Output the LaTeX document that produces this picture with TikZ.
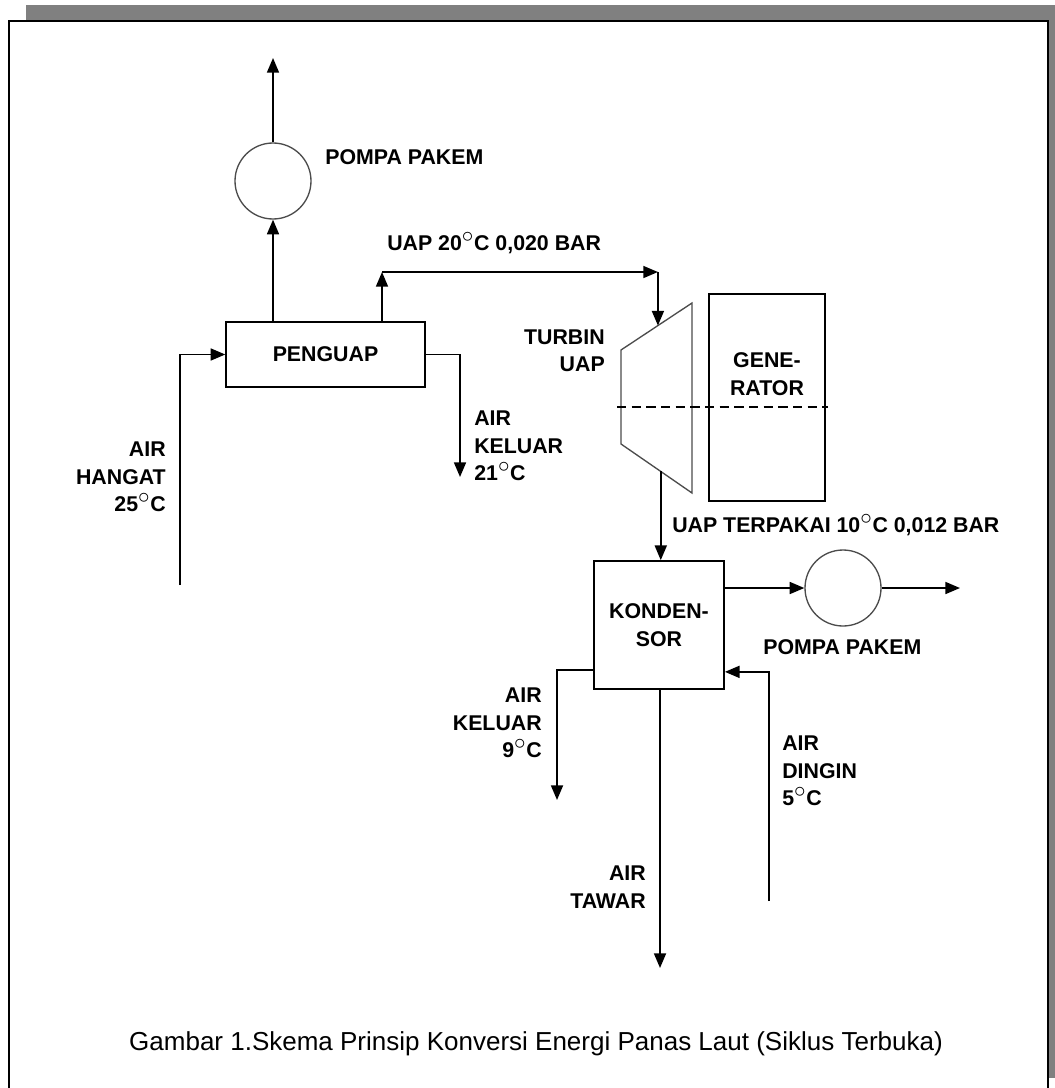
\documentclass[tikz,border=0pt]{standalone}
\usepackage{fontspec}
\setmainfont{Liberation Sans}
\usetikzlibrary{arrows.meta,calc,positioning}
\newcommand{\dg}{\ensuremath{^{\textstyle\circ}}}

\begin{document}
\begin{tikzpicture}[x=0.75pt,y=-0.75pt,
    flow/.style={line width=1.3pt,-{Triangle[length=11pt,width=9pt]}},
    unitbox/.style={draw,line width=1.3pt,rectangle,inner sep=0pt},
    pumpcirc/.style={draw=black!70,line width=1pt,circle,inner sep=0pt,minimum size=57pt},
    labelfont/.style={font=\bfseries\fontsize{16}{20.6}\selectfont},
    lbl/.style={labelfont,inner sep=0pt}]
    \useasboundingbox (0,0) rectangle (1055,1088);
    \clip (0,0) rectangle (1055,1088);

    % Frame with shadow
    \fill[black!50] (26,5) rectangle (1070,1078);
    \draw[fill=white,line width=1.6pt] (9,21) rectangle (1048,1110);

    % Evaporator and vacuum pump
    \node[unitbox,labelfont,minimum width=149pt,minimum height=49pt] (penguap) at (325.5,354.5) {PENGUAP};
    \node[pumpcirc] (pump1) at (273,181) {};
    \coordinate (pompa top) at (273,58);
    \draw[flow] (pump1.north) -- (pompa top);
    \draw[flow] (penguap.north -| pump1.south) -- (pump1.south);
    \node[lbl,anchor=west] (lbl pompa1) at (325,157) {POMPA PAKEM};

    % Warm water in, water out
    \coordinate (hangat) at (180,585);
    \draw[flow] (hangat) |- (penguap.west);
    \node[lbl,anchor=east,align=right] (lbl hangat) at (166,477) {AIR\\HANGAT\\25\dg C};
    \coordinate (keluar1) at (460,477);
    \draw[flow] (penguap.east) -| (keluar1);
    \node[lbl,anchor=west,align=left] (lbl keluar1) at (474,446) {AIR\\KELUAR\\21\dg C};

    % Turbine
    \draw[draw=black!70,line width=1pt] (621,350) coordinate (tA) -- (692,303) coordinate (tB)
      -- (692,493) coordinate (tC) -- (621,444) coordinate (tD) -- cycle;
    \coordinate (turbin in) at ($(tA)!0.52!(tB)$);
    \coordinate (turbin out) at ($(tD)!0.56!(tC)$);
    \node[lbl,anchor=east,align=right] (lbl turbin) at (605,351) {TURBIN\\UAP};

    % Generator
    \node[unitbox,minimum width=87pt,minimum height=155pt] (generator) at (767,397.5) {};
    \node[lbl,align=center] (lbl generator) at (767,374) {GENE-\\RATOR};
    \draw[line width=1.2pt,dash pattern=on 7pt off 4pt] (617,407) -- (828,407);

    % Steam line
    \coordinate (uapA) at (382,272);
    \coordinate (uapB) at (turbin in |- uapA);
    \draw[flow] (penguap.north -| uapA) -- (uapA);
    \draw[flow] (uapA) -- (uapB);
    \draw[flow] (uapB) -- (turbin in);
    \node[lbl,anchor=west] (lbl uap) at (387,243) {UAP 20\dg C 0,020 BAR};

    % Condenser
    \node[unitbox,labelfont,align=center,minimum width=97.5pt,minimum height=96pt] (kondensor) at (659,625) {KONDEN-\\SOR};
    \draw[flow] (turbin out) -- (turbin out |- kondensor.north);
    \node[lbl,anchor=west] (lbl terpakai) at (672,525) {UAP TERPAKAI 10\dg C 0,012 BAR};

    % Condensate pump
    \node[pumpcirc] (pump2) at (843,588) {};
    \coordinate (pompa out) at (960,588);
    \draw[flow] (kondensor.east |- pump2.west) -- (pump2.west);
    \draw[flow] (pump2.east) -- (pompa out);
    \node[lbl,anchor=west] (lbl pompa2) at (763,647) {POMPA PAKEM};

    % Cold water in, water out, fresh water
    \coordinate (dingin) at (769,901);
    \draw[flow] (dingin) |- ($(kondensor.south east)+(0,-18)$);
    \node[lbl,anchor=west,align=left] (lbl dingin) at (782,771) {AIR\\DINGIN\\5\dg C};
    \coordinate (keluar2) at (557,800);
    \draw[flow] ($(kondensor.south west)+(0,-20)$) -| (keluar2);
    \node[lbl,anchor=east,align=right] (lbl keluar2) at (542,723) {AIR\\KELUAR\\9\dg C};
    \coordinate (tawar) at (660,968);
    \draw[flow] (kondensor.south -| tawar) -- (tawar);
    \node[lbl,anchor=east,align=right] (lbl tawar) at (646,887) {AIR\\TAWAR};

    % Caption
    \node (caption) at (536,1044) {\fontsize{19.5}{24}\selectfont Gambar 1.Skema Prinsip Konversi Energi Panas Laut (Siklus Terbuka)};
\end{tikzpicture}
\end{document}
